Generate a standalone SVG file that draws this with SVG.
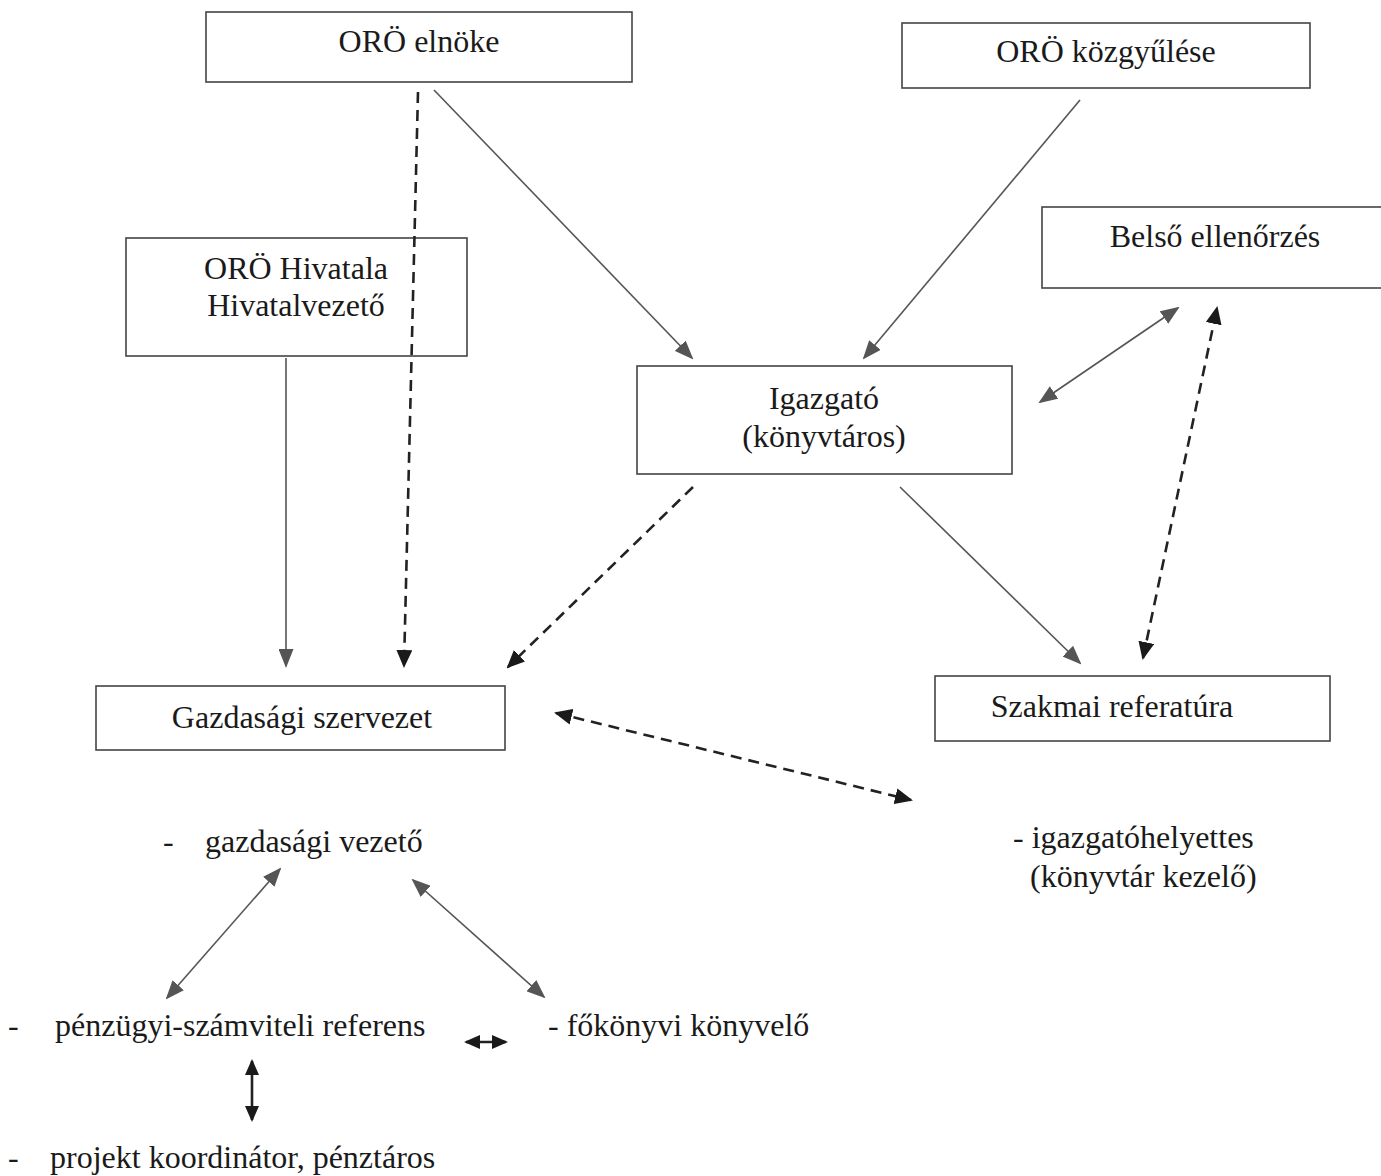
<svg xmlns="http://www.w3.org/2000/svg" width="1381" height="1176" viewBox="0 0 1381 1176">
<style>
.box{fill:#fff;stroke:#444;stroke-width:1.6}
.t{font-family:"Liberation Serif","Times New Roman",serif;font-size:32px;fill:#1a1a1a}
.c{text-anchor:middle}
.sol{stroke:#555;stroke-width:1.6;fill:none}
.dash{stroke:#222;stroke-width:2.6;fill:none;stroke-dasharray:11 7}
.thick{stroke:#222;stroke-width:2.6;fill:none}
</style>
<defs>
<marker id="ag" markerUnits="userSpaceOnUse" markerWidth="19" markerHeight="15" refX="17" refY="7.5" orient="auto-start-reverse" viewBox="0 0 19 15"><path d="M0,0 L19,7.5 L0,15 Z" fill="#555"/></marker>
<marker id="ab" markerUnits="userSpaceOnUse" markerWidth="18" markerHeight="16" refX="16" refY="8" orient="auto-start-reverse" viewBox="0 0 18 16"><path d="M0,0 L18,8 L0,16 Z" fill="#1a1a1a"/></marker>
<marker id="as" markerUnits="userSpaceOnUse" markerWidth="16" markerHeight="14" refX="14" refY="7" orient="auto-start-reverse" viewBox="0 0 16 14"><path d="M0,0 L16,7 L0,14 Z" fill="#1a1a1a"/></marker>
</defs>
<g id="n-elnoke"><rect class="box" x="206" y="12" width="426" height="70"/><text class="t c" x="419" y="52">ORÖ elnöke</text></g>
<g id="n-kozgyules"><rect class="box" x="902" y="23" width="408" height="65"/><text class="t c" x="1106" y="62">ORÖ közgyűlése</text></g>
<g id="n-hivatal"><rect class="box" x="126" y="238" width="341" height="118"/><text class="t c" x="296" y="279">ORÖ Hivatala</text><text class="t c" x="296" y="316">Hivatalvezető</text></g>
<g id="n-belso"><rect class="box" x="1042" y="207" width="345" height="81"/><text class="t c" x="1215" y="247">Belső ellenőrzés</text></g>
<g id="n-igazgato"><rect class="box" x="637" y="366" width="375" height="108"/><text class="t c" x="824" y="409">Igazgató</text><text class="t c" x="824" y="447">(könyvtáros)</text></g>
<g id="n-gazdasagi"><rect class="box" x="96" y="686" width="409" height="64"/><text class="t c" x="302" y="728">Gazdasági szervezet</text></g>
<g id="n-szakmai"><rect class="box" x="935" y="676" width="395" height="65"/><text class="t c" x="1112" y="717">Szakmai referatúra</text></g>
<g id="n-gvezeto"><text class="t" x="163" y="852">-</text><text class="t" x="205" y="852">gazdasági vezető</text></g>
<g id="n-igh"><text class="t" x="1013" y="848">- igazgatóhelyettes</text><text class="t" x="1030" y="887">(könyvtár kezelő)</text></g>
<g id="n-penzugyi"><text class="t" x="8" y="1036">-</text><text class="t" x="55" y="1036">pénzügyi-számviteli referens</text></g>
<g id="n-fokonyvi"><text class="t" x="548" y="1036">- főkönyvi könyvelő</text></g>
<g id="n-projekt"><text class="t" x="8" y="1168">-</text><text class="t" x="50" y="1168">projekt koordinátor, pénztáros</text></g>
<g id="connectors">
<line class="dash" x1="418" y1="92" x2="404" y2="666" marker-end="url(#ab)"/>
<line class="sol" x1="434" y1="90" x2="692" y2="358" marker-end="url(#ag)"/>
<line class="sol" x1="1080" y1="100" x2="864" y2="358" marker-end="url(#ag)"/>
<line class="sol" x1="286" y1="358" x2="286" y2="666" marker-end="url(#ag)"/>
<line class="sol" x1="1040" y1="402" x2="1178" y2="308" marker-start="url(#ag)" marker-end="url(#ag)"/>
<line class="dash" x1="1143" y1="658" x2="1217" y2="308" marker-start="url(#ab)" marker-end="url(#ab)"/>
<line class="sol" x1="900" y1="487" x2="1080" y2="663" marker-end="url(#ag)"/>
<line class="dash" x1="693" y1="487" x2="508" y2="667" marker-end="url(#ab)"/>
<line class="dash" x1="556" y1="713" x2="911" y2="800" marker-start="url(#ab)" marker-end="url(#ab)"/>
<line class="sol" x1="280" y1="869" x2="167" y2="998" marker-start="url(#ag)" marker-end="url(#ag)"/>
<line class="sol" x1="413" y1="880" x2="544" y2="997" marker-start="url(#ag)" marker-end="url(#ag)"/>
<line class="thick" x1="466" y1="1042" x2="506" y2="1042" marker-start="url(#as)" marker-end="url(#as)"/>
<line class="thick" x1="252" y1="1061" x2="252" y2="1120" marker-start="url(#as)" marker-end="url(#as)"/>
</g>
</svg>
